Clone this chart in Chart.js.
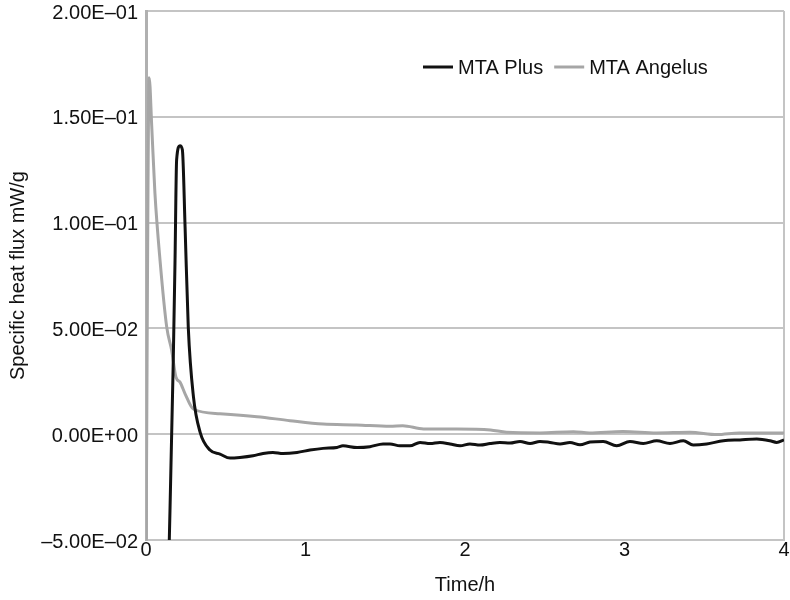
<!DOCTYPE html>
<html lang="en">
<head>
    <meta charset="UTF-8">
    <title>Specific heat flux</title>
    <script src="https://cdn.jsdelivr.net/npm/chart.js"></script>
    <style>
        * {
            box-sizing: border-box;
            margin: 0;
            padding: 0;
        }

        body {
            background-color: #fff;
            width: 790px;
            height: 600px;
            overflow: hidden;
        }
    </style>
</head>
<body>
    <canvas id="heatChart" width="790" height="600"></canvas>

    <script>
        // Values
        const seriesNames = ['MTA Plus', 'MTA Angelus'];

        const plusTime = [0.14, 0.171, 0.182, 0.192, 0.213, 0.228, 0.245, 0.265, 0.297, 0.339,
            0.401, 0.464, 0.527, 0.589, 0.671, 0.734, 0.796, 0.859, 0.947, 1.028,
            1.11, 1.197, 1.235, 1.323, 1.404, 1.486, 1.53, 1.592, 1.655, 1.718,
            1.781, 1.843, 1.906, 1.969, 2.031, 2.094, 2.157, 2.219, 2.282, 2.345,
            2.408, 2.47, 2.533, 2.596, 2.658, 2.721, 2.784, 2.867, 2.951, 3.034,
            3.118, 3.202, 3.285, 3.369, 3.431, 3.515, 3.62, 3.724, 3.829, 3.912,
            3.954, 4.0];
        const plusFlux = [-0.07, 0.0348, 0.0822, 0.1296, 0.1363, 0.1344, 0.098, 0.0506, 0.018, 0.001,
            -0.0075, -0.0094, -0.0113, -0.011, -0.0102, -0.0091, -0.0086, -0.0091, -0.0086, -0.0075,
            -0.0067, -0.0063, -0.0055, -0.0063, -0.0059, -0.0046, -0.0046, -0.0055, -0.0055, -0.0039,
            -0.0044, -0.0039, -0.0046, -0.0055, -0.0046, -0.0051, -0.0044, -0.0039, -0.0042, -0.0034,
            -0.0044, -0.0034, -0.0039, -0.0046, -0.0039, -0.005, -0.0037, -0.0034, -0.0055, -0.0034,
            -0.0044, -0.0031, -0.0044, -0.0031, -0.0051, -0.0046, -0.0031, -0.0027, -0.0023, -0.0031,
            -0.0039, -0.0027];

        const angelusTime = [0, 0.02, 0.036, 0.056, 0.088, 0.13, 0.161, 0.188, 0.213, 0.245,
            0.297, 0.464, 0.696, 0.903, 1.11, 1.32, 1.53, 1.61, 1.74, 1.95,
            2.16, 2.26, 2.47, 2.68, 2.78, 2.99, 3.2, 3.41, 3.58, 3.72, 4.0];
        const angelusFlux = [-0.06, 0.1685, 0.1454, 0.1139, 0.0822, 0.0506, 0.0396, 0.0269, 0.0246, 0.0191,
            0.0119, 0.0097, 0.0083, 0.0064, 0.0048, 0.0044, 0.0037, 0.004, 0.0025, 0.0025,
            0.002, 0.0009, 0.0006, 0.0012, 0.0006, 0.0013, 0.0006, 0.0009, -0.0002, 0.0006, 0.0006];

        const xTicks = [0, 1, 2, 3, 4];
        const yTicks = [-0.05, 0, 0.05, 0.1, 0.15, 0.2];

        const FONT = '"Liberation Sans", Arial, Helvetica, sans-serif';
        const GRID = '#c4c4c4';

        function toPoints(xs, ys) {
            return xs.map((x, i) => ({ x: x, y: ys[i] }));
        }

        // 0.15 -> "1.50E–01"
        function sciLabel(v) {
            if (Math.abs(v) < 1e-12) return '0.00E+00';
            const e = Math.floor(Math.log10(Math.abs(v)) + 1e-9);
            const m = v / Math.pow(10, e);
            const mant = m.toFixed(2).replace('-', '\u2013');
            const sign = e < 0 ? '\u2013' : '+';
            return mant + 'E' + sign + String(Math.abs(e)).padStart(2, '0');
        }

        // legend drawn inside the plot, top right
        const insideLegend = {
            id: 'insideLegend',
            afterDraw(chart) {
                const ctx = chart.ctx;
                ctx.save();
                ctx.font = '20px ' + FONT;
                ctx.textBaseline = 'middle';
                ctx.fillStyle = '#111';
                let x = 423;
                const y = 67;
                chart.data.datasets.forEach(ds => {
                    ctx.strokeStyle = ds.borderColor;
                    ctx.lineWidth = 3;
                    ctx.beginPath();
                    ctx.moveTo(x, y);
                    ctx.lineTo(x + 30, y);
                    ctx.stroke();
                    ctx.fillText(ds.label, x + 35, y + 1);
                    x += 35 + ctx.measureText(ds.label).width + 11;
                });
                ctx.restore();
            }
        };

        const ctx = document.getElementById('heatChart').getContext('2d');
        const heatChart = new Chart(ctx, {
            type: 'line',
            data: {
                datasets: [{
                    label: seriesNames[0],
                    data: toPoints(plusTime, plusFlux),
                    borderColor: '#111111',
                    borderWidth: 3,
                    pointRadius: 0,
                    cubicInterpolationMode: 'monotone',
                    order: 0
                }, {
                    label: seriesNames[1],
                    data: toPoints(angelusTime, angelusFlux),
                    borderColor: '#a6a6a6',
                    borderWidth: 3,
                    pointRadius: 0,
                    cubicInterpolationMode: 'monotone',
                    order: 1
                }]
            },
            options: {
                responsive: false,
                animation: false,
                layout: {
                    padding: { left: 0, top: 11, right: 6, bottom: 0 }
                },
                plugins: {
                    legend: { display: false },
                    tooltip: { enabled: false }
                },
                scales: {
                    x: {
                        type: 'linear',
                        min: 0,
                        max: 4,
                        afterBuildTicks: scale => {
                            scale.ticks = xTicks.map(v => ({ value: v }));
                        },
                        afterFit: scale => { scale.height = 60; },
                        grid: {
                            drawTicks: false,
                            lineWidth: 2,
                            color: c => (c.tick && c.tick.value === 4) ? GRID : 'rgba(0,0,0,0)'
                        },
                        border: { display: true, color: GRID, width: 2 },
                        ticks: {
                            padding: 0,
                            color: '#111',
                            font: { family: FONT, size: 20, lineHeight: 1 },
                            callback: v => String(v)
                        },
                        title: {
                            display: true,
                            text: 'Time/h',
                            color: '#111',
                            font: { family: FONT, size: 20, lineHeight: 1.2 },
                            padding: { top: 0, bottom: 3 }
                        }
                    },
                    y: {
                        min: -0.05,
                        max: 0.2,
                        afterBuildTicks: scale => {
                            scale.ticks = yTicks.map(v => ({ value: v }));
                        },
                        afterFit: scale => {
                            scale.width = 146;
                            scale.paddingTop = 0;
                            scale.paddingBottom = 0;
                        },
                        grid: {
                            drawTicks: false,
                            lineWidth: 2,
                            color: GRID
                        },
                        border: { display: true, color: '#b0b0b0', width: 3 },
                        ticks: {
                            padding: 8,
                            labelOffset: 2,
                            color: '#111',
                            font: { family: FONT, size: 20 },
                            callback: v => sciLabel(v)
                        },
                        title: {
                            display: true,
                            text: 'Specific heat flux mW/g',
                            color: '#111',
                            font: { family: FONT, size: 20, lineHeight: 1.2 },
                            padding: { top: 6, bottom: 0 }
                        }
                    }
                }
            },
            plugins: [insideLegend]
        });
    </script>
</body>
</html>
